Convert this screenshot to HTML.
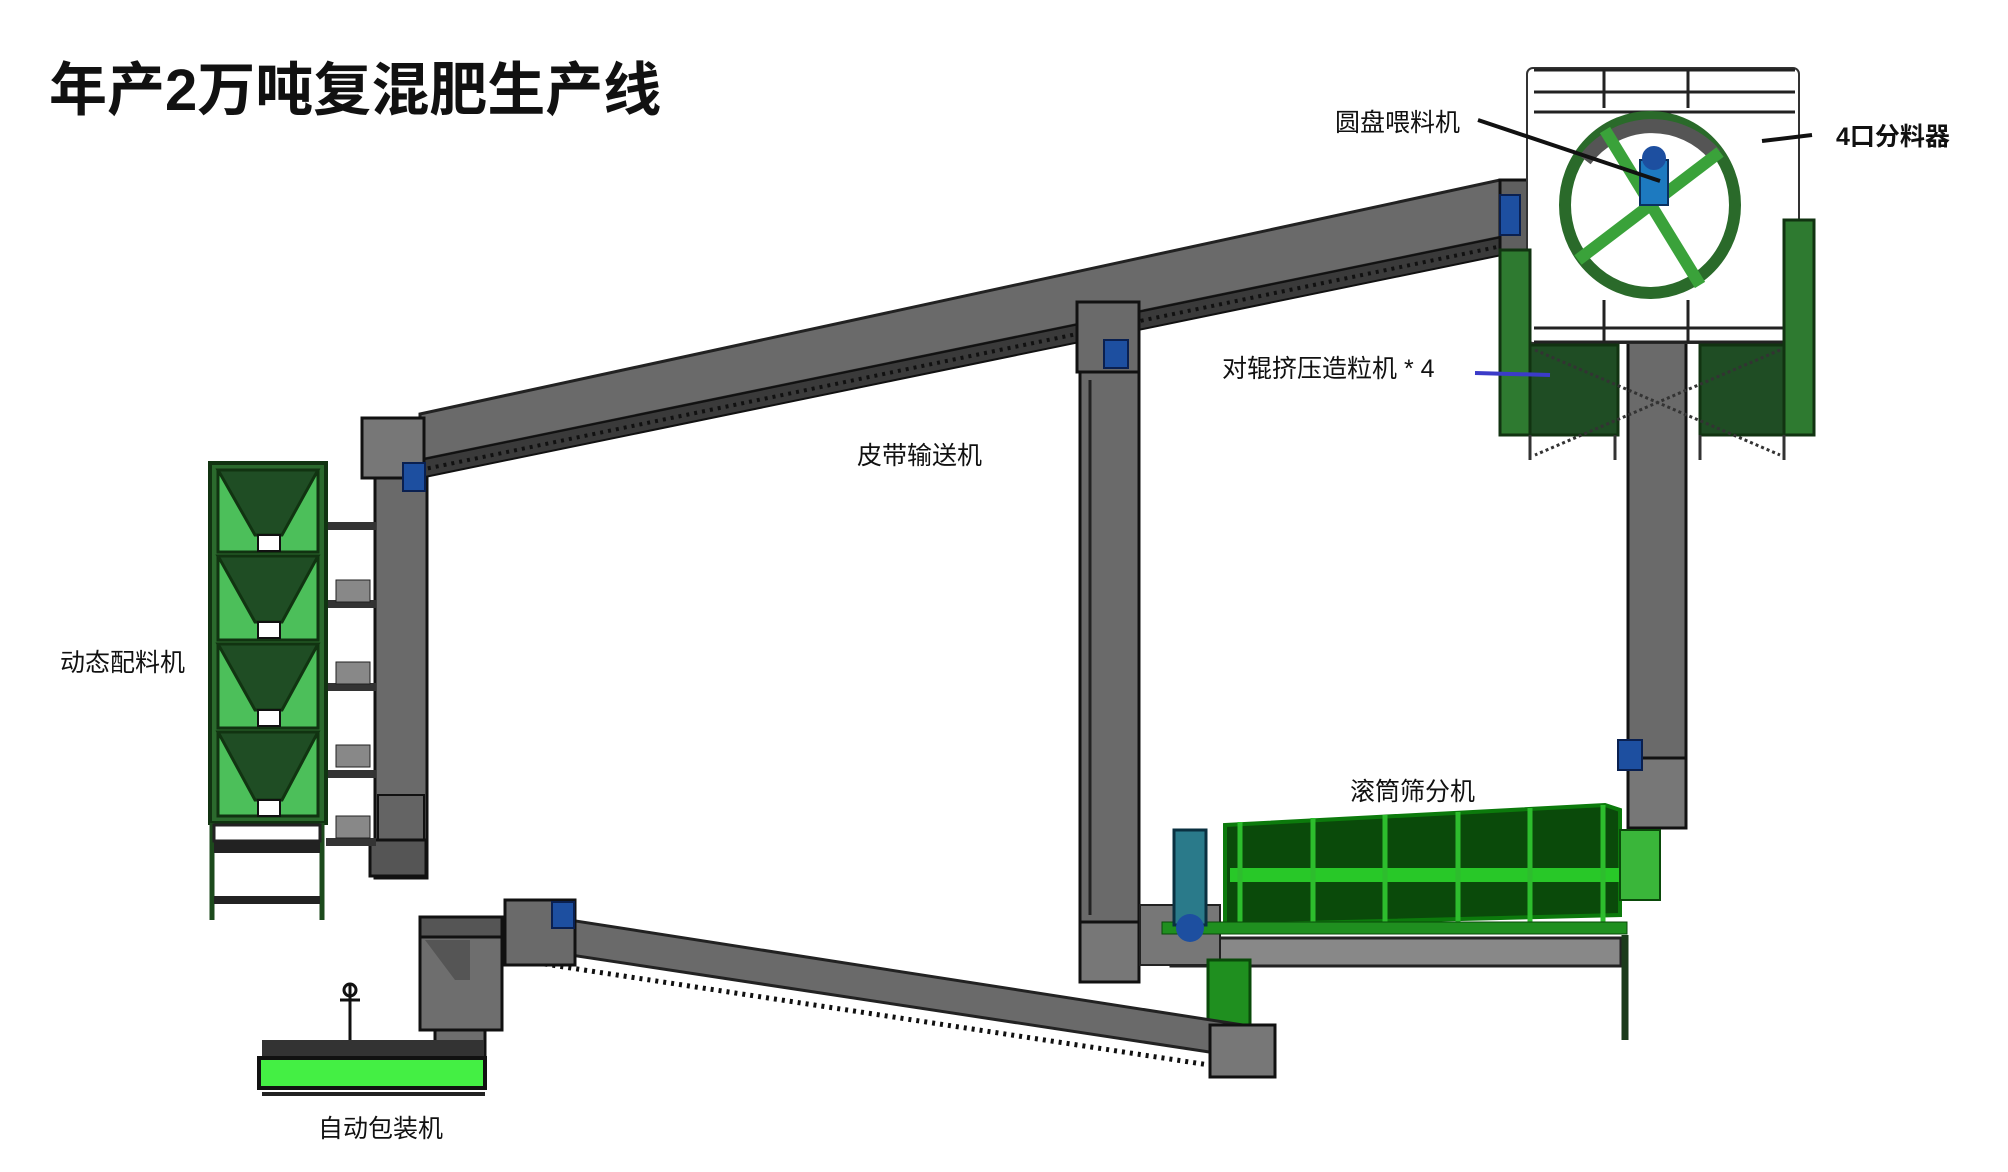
<!DOCTYPE html>
<html><head><meta charset="utf-8">
<style>
html,body{margin:0;padding:0;background:#fff;}
svg{display:block;}
text{font-family:"Liberation Sans","Noto Sans CJK SC",sans-serif;fill:#111;}
</style></head>
<body>
<svg width="2008" height="1172" viewBox="0 0 2008 1172" xmlns="http://www.w3.org/2000/svg">
<rect width="2008" height="1172" fill="#fff"/>
<text x="49" y="110" font-size="58" font-weight="bold">年产2万吨复混肥生产线</text>

<!-- upper inclined conveyor -->
<polygon points="420,414 1500,180 1560,183 1560,225 420,460" fill="#6a6a6a" stroke="#222" stroke-width="3"/>
<polygon points="420,460 1560,225 1560,243 420,478" fill="#3a3a3a" stroke="#111" stroke-width="2"/>
<line x1="420" y1="470" x2="1560" y2="234" stroke="#111" stroke-width="4" stroke-dasharray="3,5"/>
<!-- head box right -->
<rect x="1500" y="180" width="62" height="70" fill="#5f5f5f" stroke="#111" stroke-width="3"/>
<rect x="1500" y="195" width="20" height="40" fill="#1d4fa0" stroke="#0a2050" stroke-width="2"/>

<!-- left vertical conveyor -->
<rect x="362" y="418" width="62" height="60" fill="#777" stroke="#111" stroke-width="3"/>
<rect x="375" y="478" width="52" height="400" fill="#6a6a6a" stroke="#111" stroke-width="3"/>
<rect x="378" y="795" width="46" height="45" fill="#646464" stroke="#111" stroke-width="2"/>
<rect x="370" y="840" width="56" height="36" fill="#555" stroke="#111" stroke-width="3"/>
<rect x="403" y="463" width="22" height="28" fill="#1d4fa0" stroke="#0a2050" stroke-width="2"/>
<!-- connections batcher -> conveyor -->
<g fill="#333"><rect x="326" y="522" width="50" height="8"/><rect x="326" y="600" width="50" height="8"/><rect x="326" y="683" width="50" height="8"/><rect x="326" y="770" width="50" height="8"/><rect x="326" y="838" width="50" height="8"/></g>
<g fill="#888" stroke="#222"><rect x="336" y="580" width="34" height="22"/><rect x="336" y="662" width="34" height="22"/><rect x="336" y="745" width="34" height="22"/><rect x="336" y="816" width="34" height="22"/></g>

<!-- dynamic batcher -->
<rect x="210" y="463" width="116" height="360" fill="#2b6a2d" stroke="#113311" stroke-width="4"/>
<g stroke="#113311" stroke-width="3">
<polygon points="218,470 318,470 318,552 218,552" fill="#4cbf5a"/>
<polygon points="218,470 318,470 282,535 255,535" fill="#1f4d24"/>
<polygon points="218,556 318,556 318,640 218,640" fill="#4cbf5a"/>
<polygon points="218,556 318,556 282,622 255,622" fill="#1f4d24"/>
<polygon points="218,644 318,644 318,728 218,728" fill="#4cbf5a"/>
<polygon points="218,644 318,644 282,710 255,710" fill="#1f4d24"/>
<polygon points="218,732 318,732 318,816 218,816" fill="#4cbf5a"/>
<polygon points="218,732 318,732 282,800 255,800" fill="#1f4d24"/>
</g>
<g fill="#fff" stroke="#111" stroke-width="2"><rect x="258" y="535" width="22" height="16"/><rect x="258" y="622" width="22" height="16"/><rect x="258" y="710" width="22" height="16"/><rect x="258" y="800" width="22" height="16"/></g>
<g fill="none" stroke="#1c4a1c" stroke-width="5"><line x1="212" y1="823" x2="212" y2="920"/><line x1="322" y1="823" x2="322" y2="920"/></g>
<rect x="214" y="825" width="106" height="16" fill="#fff" stroke="#222" stroke-width="3"/>
<rect x="214" y="841" width="106" height="12" fill="#222"/>
<rect x="214" y="896" width="106" height="8" fill="#222"/>

<!-- middle vertical conveyor -->
<rect x="1077" y="302" width="62" height="70" fill="#6a6a6a" stroke="#111" stroke-width="3"/>
<rect x="1080" y="372" width="59" height="550" fill="#6a6a6a" stroke="#111" stroke-width="3"/>
<line x1="1090" y1="380" x2="1090" y2="915" stroke="#222" stroke-width="3"/>
<rect x="1080" y="922" width="59" height="60" fill="#777" stroke="#111" stroke-width="3"/>
<rect x="1104" y="340" width="24" height="28" fill="#1d4fa0" stroke="#0a2050" stroke-width="2"/>

<!-- right vertical conveyor -->
<rect x="1628" y="338" width="58" height="420" fill="#6a6a6a" stroke="#111" stroke-width="3"/>
<rect x="1628" y="758" width="58" height="70" fill="#777" stroke="#111" stroke-width="3"/>
<rect x="1618" y="740" width="24" height="30" fill="#1d4fa0" stroke="#0a2050" stroke-width="2"/>

<!-- distributor box -->
<rect x="1527" y="68" width="272" height="275" fill="#fff" stroke="#333" stroke-width="2" rx="6"/>
<g stroke="#222" stroke-width="3"><line x1="1534" y1="70" x2="1795" y2="70"/><line x1="1534" y1="92" x2="1795" y2="92"/><line x1="1534" y1="112" x2="1795" y2="112"/><line x1="1534" y1="328" x2="1795" y2="328"/><line x1="1534" y1="342" x2="1795" y2="342"/>
<line x1="1604" y1="70" x2="1604" y2="108"/><line x1="1688" y1="70" x2="1688" y2="108"/><line x1="1604" y1="300" x2="1604" y2="342"/><line x1="1688" y1="300" x2="1688" y2="342"/></g>
<!-- granulators -->
<g stroke="#113311" stroke-width="3">
<rect x="1500" y="250" width="30" height="185" fill="#2e7a30"/>
<rect x="1530" y="345" width="88" height="90" fill="#1f4d24"/>
<rect x="1700" y="345" width="88" height="90" fill="#1f4d24"/>
<rect x="1784" y="220" width="30" height="215" fill="#2e7a30"/>
</g>
<g stroke="#333" stroke-width="3" fill="none"><line x1="1530" y1="435" x2="1530" y2="460"/><line x1="1615" y1="435" x2="1615" y2="460"/><line x1="1700" y1="435" x2="1700" y2="460"/><line x1="1784" y1="435" x2="1784" y2="460"/><line x1="1535" y1="350" x2="1780" y2="455" stroke-dasharray="3,3"/><line x1="1780" y1="350" x2="1535" y2="455" stroke-dasharray="3,3"/></g>
<!-- wheel -->
<ellipse cx="1650" cy="205" rx="85" ry="88" fill="none" stroke="#2a6a2a" stroke-width="12"/>
<path d="M1585 160 A85 88 0 0 1 1715 155" fill="none" stroke="#555" stroke-width="14"/>
<g stroke="#3aa23a" stroke-width="12"><line x1="1605" y1="130" x2="1700" y2="285"/><line x1="1578" y1="260" x2="1720" y2="152"/></g>
<rect x="1640" y="160" width="28" height="45" fill="#1d7ac0" stroke="#0a3060" stroke-width="2"/>
<circle cx="1654" cy="158" r="12" fill="#1d4fa0"/>

<!-- drum screen -->
<rect x="1171" y="938" width="450" height="28" fill="#888" stroke="#222" stroke-width="3"/>
<rect x="1140" y="905" width="80" height="60" fill="#777" stroke="#222" stroke-width="2"/>
<polygon points="1225,825 1605,805 1620,810 1620,915 1225,925" fill="#0a4a0a" stroke="#0c7a0c" stroke-width="4"/>
<rect x="1230" y="868" width="390" height="14" fill="#28c828"/>
<g stroke="#2dbd2d" stroke-width="5"><line x1="1240" y1="822" x2="1240" y2="925"/><line x1="1313" y1="818" x2="1313" y2="925"/><line x1="1385" y1="815" x2="1385" y2="925"/><line x1="1458" y1="812" x2="1458" y2="925"/><line x1="1530" y1="808" x2="1530" y2="925"/><line x1="1603" y1="805" x2="1603" y2="925"/></g>
<rect x="1162" y="922" width="465" height="12" fill="#1f8f1f" stroke="#0a4a0a"/>
<rect x="1620" y="830" width="40" height="70" fill="#3ab63a" stroke="#0a4a0a" stroke-width="2"/>
<rect x="1174" y="830" width="32" height="95" fill="#2a7a8a" stroke="#0a3040" stroke-width="3"/>
<circle cx="1190" cy="928" r="14" fill="#1d4fa0"/>
<rect x="1208" y="960" width="42" height="90" fill="#1f8f1f" stroke="#0a4a0a" stroke-width="3"/>
<line x1="1625" y1="935" x2="1625" y2="1040" stroke="#1a3a1a" stroke-width="7"/>

<!-- lower inclined conveyor -->
<polygon points="505,910 1275,1030 1275,1062 505,945" fill="#6a6a6a" stroke="#222" stroke-width="3"/>
<line x1="505" y1="958" x2="1275" y2="1075" stroke="#111" stroke-width="5" stroke-dasharray="3,5"/>
<rect x="505" y="900" width="70" height="65" fill="#6a6a6a" stroke="#111" stroke-width="3"/>
<rect x="552" y="902" width="22" height="26" fill="#1d4fa0" stroke="#0a2050" stroke-width="2"/>
<rect x="1210" y="1025" width="65" height="52" fill="#777" stroke="#111" stroke-width="3"/>
<!-- hopper at packer -->
<rect x="420" y="917" width="82" height="20" fill="#555" stroke="#111" stroke-width="3"/>
<polygon points="420,937 502,937 502,1030 420,1030" fill="#6e6e6e" stroke="#111" stroke-width="3"/>
<polygon points="425,940 470,940 470,980 455,980" fill="#555"/>
<rect x="435" y="1030" width="50" height="40" fill="#6e6e6e" stroke="#111" stroke-width="3"/>
<!-- packer -->
<rect x="262" y="1040" width="222" height="16" fill="#333"/>
<rect x="259" y="1058" width="226" height="30" fill="#44ef44" stroke="#111" stroke-width="4"/>
<line x1="262" y1="1094" x2="485" y2="1094" stroke="#222" stroke-width="4"/>
<g stroke="#111" stroke-width="3" fill="none"><line x1="350" y1="985" x2="350" y2="1040"/><circle cx="350" cy="990" r="6"/><line x1="340" y1="1000" x2="360" y2="1000"/></g>

<!-- labels -->
<text x="1335" y="131" font-size="25">圆盘喂料机</text>
<line x1="1478" y1="120" x2="1660" y2="181" stroke="#111" stroke-width="4"/>
<text x="1836" y="145" font-size="25" font-weight="bold">4口分料器</text>
<line x1="1762" y1="141" x2="1812" y2="135" stroke="#111" stroke-width="4"/>
<text x="1222" y="377" font-size="25">对辊挤压造粒机  * 4</text>
<line x1="1475" y1="373" x2="1550" y2="375" stroke="#3b3bc8" stroke-width="4"/>
<text x="857" y="464" font-size="25">皮带输送机</text>
<text x="60" y="671" font-size="25">动态配料机</text>
<text x="1350" y="800" font-size="25">滚筒筛分机</text>
<text x="318" y="1137" font-size="25">自动包装机</text>
</svg>
</body></html>
